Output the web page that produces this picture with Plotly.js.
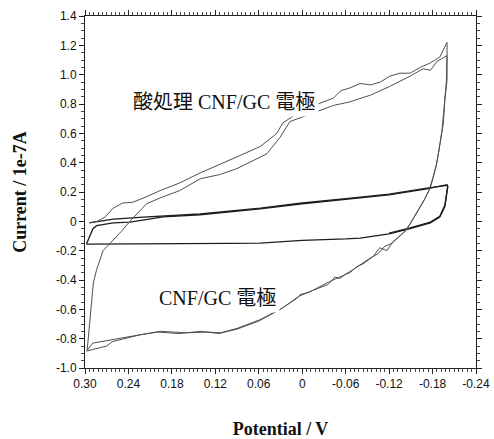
<!DOCTYPE html>
<html>
<head>
<meta charset="utf-8">
<script src="https://cdn.plot.ly/plotly-3.0.1.min.js"></script>
<style>html,body{margin:0;padding:0;background:#fff;}#chart{width:494px;height:439px;}</style>
</head>
<body>
<div id="chart"></div>
<script>
// ---- data (Potential / V, Current / 1e-7 A) ----
// 酸処理 CNF/GC 電極, first cycle
const acid1X = [0.294, 0.283, 0.272, 0.261, 0.248, 0.234, 0.214, 0.196, 0.170, 0.141, 0.113, 0.086, 0.058, 0.035, 0.027, 0.000, -0.043, -0.053, -0.066, -0.080, -0.094, -0.108, -0.121, -0.135, -0.149, -0.163, -0.177, -0.190, -0.200,
  -0.200, -0.197, -0.195, -0.190, -0.186, -0.181, -0.177, -0.170, -0.163, -0.153, -0.144, -0.135, -0.125, -0.117, -0.107, -0.098, -0.084, -0.075, -0.066, -0.056, -0.043, -0.034, -0.011, 0.003, 0.006, 0.027, 0.058, 0.090, 0.113, 0.130, 0.160, 0.196, 0.220, 0.242, 0.265, 0.280, 0.289, 0.297];
const acid1Y = [-0.01, 0.00, 0.03, 0.09, 0.125, 0.13, 0.17, 0.21, 0.26, 0.33, 0.39, 0.45, 0.51, 0.60, 0.67, 0.76, 0.84, 0.89, 0.91, 0.94, 0.93, 0.95, 0.99, 1.01, 1.01, 1.05, 1.08, 1.12, 1.22,
  0.96, 0.83, 0.67, 0.51, 0.40, 0.30, 0.23, 0.16, 0.10, 0.01, -0.06, -0.10, -0.14, -0.20, -0.18, -0.24, -0.29, -0.31, -0.35, -0.37, -0.40, -0.42, -0.48, -0.50, -0.52, -0.59, -0.67, -0.73, -0.76, -0.755, -0.76, -0.75, -0.77, -0.79, -0.81, -0.82, -0.83, -0.88];
// 酸処理 CNF/GC 電極, second cycle
const acid2X = [0.297, 0.293, 0.2885, 0.284, 0.275, 0.2655, 0.250, 0.238, 0.215, 0.196, 0.169, 0.141, 0.113, 0.090, 0.049, 0.031, 0.017, -0.043, -0.066, -0.094, -0.121, -0.149, -0.167, -0.177, -0.186, -0.200,
  -0.199, -0.196, -0.193, -0.189, -0.185, -0.180, -0.175, -0.168, -0.160, -0.150, -0.141, -0.132, -0.124, -0.114, -0.105, -0.094, -0.080, -0.070, -0.060, -0.052, -0.045, -0.036, -0.015, 0.004, 0.010, 0.030, 0.060, 0.090, 0.115, 0.140, 0.170, 0.200, 0.225, 0.245, 0.262, 0.270, 0.280, 0.290, 0.298];
const acid2Y = [-0.88, -0.65, -0.42, -0.33, -0.20, -0.15, -0.07, 0.00, 0.12, 0.16, 0.21, 0.29, 0.32, 0.36, 0.46, 0.57, 0.68, 0.79, 0.815, 0.86, 0.92, 0.99, 1.04, 1.03, 1.09, 1.13,
  0.95, 0.78, 0.62, 0.49, 0.38, 0.29, 0.21, 0.14, 0.07, -0.01, -0.07, -0.115, -0.15, -0.17, -0.22, -0.25, -0.30, -0.33, -0.36, -0.39, -0.38, -0.43, -0.47, -0.51, -0.53, -0.60, -0.68, -0.735, -0.765, -0.75, -0.765, -0.755, -0.775, -0.80, -0.82, -0.85, -0.86, -0.875, -0.885];
// CNF/GC 電極, first cycle
const cnf1X = [0.294, 0.261, 0.214, 0.141, 0.058, 0.000, -0.060, -0.120, -0.170, -0.200,
  -0.201, -0.197, -0.190, -0.177, -0.149, -0.120, -0.080, -0.060, 0.000, 0.058, 0.100, 0.200, 0.298];
const cnf1Y = [-0.01, 0.015, 0.03, 0.05, 0.09, 0.125, 0.155, 0.185, 0.225, 0.245,
  0.235, 0.10, 0.03, -0.01, -0.05, -0.085, -0.114, -0.12, -0.13, -0.148, -0.15, -0.152, -0.155];
// CNF/GC 電極, second cycle
const cnf2X = [0.298, 0.293, 0.289, 0.284, 0.261, 0.238, 0.192, 0.141, 0.058, 0.000, -0.060, -0.120, -0.170, -0.200,
  -0.201, -0.197, -0.190, -0.177, -0.149, -0.120];
const cnf2Y = [-0.155, -0.09, -0.05, -0.03, -0.01, -0.005, 0.03, 0.045, 0.085, 0.12, 0.15, 0.18, 0.22, 0.25,
  0.24, 0.11, 0.035, -0.005, -0.045, -0.08];

// ---- axes ----
const xTickVals = [0.30, 0.24, 0.18, 0.12, 0.06, 0, -0.06, -0.12, -0.18, -0.24];
const xTickText = ['0.30', '0.24', '0.18', '0.12', '0.06', '0', '-0.06', '-0.12', '-0.18', '-0.24'];
const yTickVals = [1.4, 1.2, 1.0, 0.8, 0.6, 0.4, 0.2, 0, -0.2, -0.4, -0.6, -0.8, -1.0];
const yTickText = ['1.4', '1.2', '1.0', '0.8', '0.6', '0.4', '0.2', '0', '-0.2', '-0.4', '-0.6', '-0.8', '-1.0'];
const labelAcid = '酸処理 CNF/GC 電極';
const labelCnf = 'CNF/GC 電極';

const acidLine = {color: '#505050', width: 1};
const cnfLine = {color: '#1e1e1e', width: 1.3};

const traces = [
  {x: cnf1X, y: cnf1Y, mode: 'lines', line: cnfLine, hoverinfo: 'skip'},
  {x: cnf2X, y: cnf2Y, mode: 'lines', line: cnfLine, hoverinfo: 'skip'},
  {x: acid1X, y: acid1Y, mode: 'lines', line: acidLine, hoverinfo: 'skip'},
  {x: acid2X, y: acid2Y, mode: 'lines', line: acidLine, hoverinfo: 'skip'}
];

const tickFont = {family: 'Liberation Sans, Arial, sans-serif', size: 12, color: '#111'};
const titleFont = {family: 'Liberation Serif, Times New Roman, serif', size: 18, color: '#111', weight: 'bold'};
const labelFont = {family: 'Liberation Serif, Noto Sans CJK JP, serif', size: 20, color: '#111'};

const layout = {
  width: 494, height: 439,
  margin: {l: 85, r: 18, t: 16, b: 71},
  paper_bgcolor: '#fff', plot_bgcolor: '#fff',
  showlegend: false,
  xaxis: {
    range: [0.30, -0.24], autorange: false,
    tickmode: 'array', tickvals: xTickVals, ticktext: xTickText,
    ticks: 'outside', ticklen: 5, tickwidth: 1, tickcolor: '#222',
    minor: {tickmode: 'linear', tick0: 0, dtick: 0.006, ticks: 'outside', ticklen: 3, tickcolor: '#444'},
    showline: true, linecolor: '#222', linewidth: 1, mirror: 'allticks',
    showgrid: false, zeroline: false,
    tickfont: tickFont,
    title: {text: 'Potential / V', font: titleFont, standoff: 31}
  },
  yaxis: {
    range: [-1.0, 1.4], autorange: false,
    tickmode: 'array', tickvals: yTickVals, ticktext: yTickText,
    ticks: 'outside', ticklen: 5, tickwidth: 1, tickcolor: '#222',
    minor: {tickmode: 'linear', tick0: 0, dtick: 0.05, ticks: 'outside', ticklen: 3, tickcolor: '#444'},
    showline: true, linecolor: '#222', linewidth: 1, mirror: 'allticks',
    showgrid: false, zeroline: false,
    tickfont: tickFont,
    title: {text: 'Current / 1e-7A', font: titleFont, standoff: 24}
  },
  annotations: [
    {x: 0.108, y: 0.815, xref: 'x', yref: 'y', text: labelAcid, showarrow: false,
     font: labelFont, bgcolor: '#fff', borderpad: 3},
    {x: 0.117, y: -0.523, xref: 'x', yref: 'y', text: labelCnf, showarrow: false,
     font: labelFont, bgcolor: '#fff', borderpad: 3}
  ]
};

Plotly.newPlot('chart', traces, layout, {staticPlot: true, displayModeBar: false});
</script>
</body>
</html>
